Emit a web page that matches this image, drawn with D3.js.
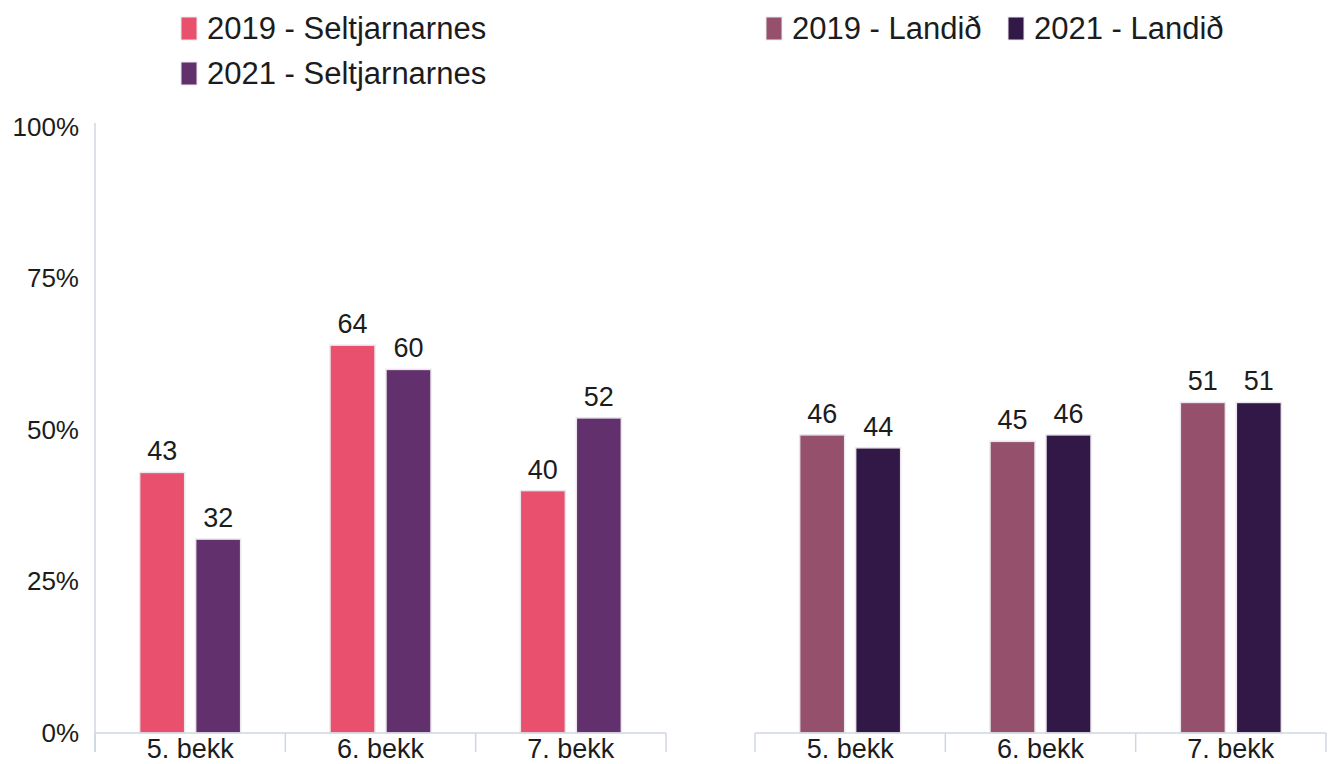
<!DOCTYPE html>
<html>
<head>
<meta charset="utf-8">
<script src="https://cdn.jsdelivr.net/npm/d3@7"></script>
<style>
	body { margin: 0; background: #fff; }
	svg { display: block; font-family: "Liberation Sans", Arial, sans-serif; }
</style>
</head>
<body>
<svg id="chart" width="1334" height="764"></svg>
<script>
// data
const categories = ["5. bekk", "6. bekk", "7. bekk"];
const seltjarnarnes2019 = [43, 64, 40];
const seltjarnarnes2021 = [32, 60, 52];
const landid2019 = [46, 45, 51];
const landid2021 = [44, 46, 51];
const yTicks = [0, 25, 50, 75, 100];

const COLORS = {
	s2019: "#e8506e",
	s2021: "#63306e",
	l2019: "#95506b",
	l2021: "#321846"
};
const AXIS_COLOR = "#cfd6e2";
const TEXT_COLOR = "#1c1c1c";

const svg = d3.select("#chart");

const BASELINE = 733;
const PLOT_TOP = 127;

// left panel is scaled to 100%, the right one (no axis) to a shorter max
const yLeft = d3.scaleLinear().domain([0, 100]).range([BASELINE, PLOT_TOP]);
const yRight = d3.scaleLinear().domain([0, 93.5]).range([BASELINE, PLOT_TOP]);

const panels = [
	{
		x0: 95, x1: 666, y: yLeft, axis: true,
		series: [
			{key: "s2019", values: seltjarnarnes2019},
			{key: "s2021", values: seltjarnarnes2021}
		]
	},
	{
		x0: 755, x1: 1326, y: yRight, axis: false,
		series: [
			{key: "l2019", values: landid2019},
			{key: "l2021", values: landid2021}
		]
	}
];

function drawPanel(panel) {
	const g = svg.append("g");
	const x = d3.scaleBand().domain(categories).range([panel.x0, panel.x1]).padding(0);
	const groupWidth = 101;
	const inner = d3.scaleBand()
		.domain(panel.series.map(s => s.key))
		.range([0, groupWidth])
		.paddingInner(0.196);

	if (panel.axis) {
		const yAxis = g.append("g")
			.attr("transform", `translate(${panel.x0},0)`)
			.call(d3.axisLeft(panel.y).tickValues(yTicks).tickSize(0).tickPadding(16).tickFormat(d => d + "%"));
		yAxis.select(".domain").remove();
		yAxis.selectAll("text")
			.attr("fill", TEXT_COLOR)
			.style("font-size", "26px")
			.style("font-family", "Liberation Sans, Arial, sans-serif");
		g.append("line")
			.attr("x1", panel.x0).attr("x2", panel.x0)
			.attr("y1", 123).attr("y2", 752)
			.attr("stroke", AXIS_COLOR).attr("stroke-width", 1.5);
	}

	// bars
	const rows = categories.map((c, i) => panel.series.map(s => ({cat: c, key: s.key, value: s.values[i]}))).flat();

	g.append("g").selectAll("rect")
		.data(rows)
		.join("rect")
		.attr("x", d => x(d.cat) + x.bandwidth() / 2 - groupWidth / 2 + inner(d.key))
		.attr("y", d => panel.y(d.value))
		.attr("width", inner.bandwidth())
		.attr("height", d => BASELINE - panel.y(d.value))
		.attr("fill", d => COLORS[d.key])
		.attr("stroke", "#e9e7ec")
		.attr("stroke-width", 1.5);

	g.append("g").selectAll("text")
		.data(rows)
		.join("text")
		.attr("x", d => x(d.cat) + x.bandwidth() / 2 - groupWidth / 2 + inner(d.key) + inner.bandwidth() / 2)
		.attr("y", d => panel.y(d.value) - 12)
		.attr("text-anchor", "middle")
		.attr("fill", TEXT_COLOR)
		.style("font-size", "27px")
		.text(d => d.value);

	// x axis
	const xAxis = g.append("g")
		.attr("transform", `translate(0,${BASELINE})`)
		.call(d3.axisBottom(x).tickSize(0).tickPadding(6));
	xAxis.select(".domain").remove();
	xAxis.selectAll("text")
		.attr("fill", TEXT_COLOR)
		.style("font-size", "27px")
		.style("font-family", "Liberation Sans, Arial, sans-serif");

	g.append("line")
		.attr("x1", panel.x0).attr("x2", panel.x1)
		.attr("y1", BASELINE).attr("y2", BASELINE)
		.attr("stroke", AXIS_COLOR).attr("stroke-width", 1.5);

	const bounds = d3.range(categories.length + 1).map(i => panel.x0 + i * x.step());
	g.append("g").selectAll("line")
		.data(bounds)
		.join("line")
		.attr("x1", d => d).attr("x2", d => d)
		.attr("y1", BASELINE).attr("y2", 752)
		.attr("stroke", AXIS_COLOR).attr("stroke-width", 1.5);
}

panels.forEach(drawPanel);

// legend
const legendItems = [
	{key: "s2019", label: "2019 - Seltjarnarnes"},
	{key: "s2021", label: "2021 - Seltjarnarnes"},
	{key: "l2019", label: "2019 - Landið"},
	{key: "l2021", label: "2021 - Landið"}
];
const legendSpots = [[181, 17], [181, 62], [766, 17], [1008, 17]];

const legend = svg.append("g").selectAll("g")
	.data(legendItems)
	.join("g")
	.attr("transform", (d, i) => `translate(${legendSpots[i][0]},${legendSpots[i][1]})`);

legend.append("rect")
	.attr("width", 16)
	.attr("height", 23)
	.attr("fill", d => COLORS[d.key])
	.attr("stroke", "#e9e7ec")
	.attr("stroke-width", 1);

legend.append("text")
	.attr("x", 26)
	.attr("y", 21.5)
	.attr("fill", TEXT_COLOR)
	.style("font-size", "31px")
	.text(d => d.label);
</script>
</body>
</html>
